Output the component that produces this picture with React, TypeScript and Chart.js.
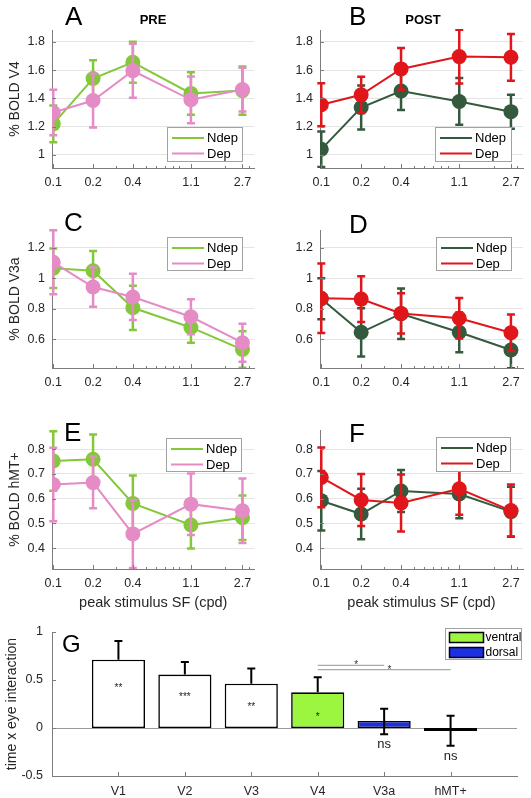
import React, { useEffect, useRef } from 'react';
import { Chart, registerables } from 'chart.js';

Chart.register(...registerables);

const FONT = '"Liberation Sans", Arial, Helvetica, sans-serif';
const TEXT = '#262626';
const AXIS = '#7c7c7c';
const GRID = '#e4e4e4';

const C_NDEP_PRE = '#84c83a';
const C_DEP_PRE = '#e58bc6';
const C_NDEP_POST = '#345a3e';
const C_DEP_POST = '#e0161b';
const C_VENTRAL = '#9cf53f';
const C_DORSAL = '#1c2fe3';
const C_PLAIN = '#ffffff';

// ---------- data ----------
const SF = [0.1, 0.2, 0.4, 1.1, 2.7];
const SF_LABELS = ['0.1', '0.2', '0.4', '1.1', '2.7'];
const SF_MINOR = [0.2, 0.3, 0.4, 0.5, 0.6, 0.7, 0.8, 0.9, 2, 3];

const V4_TICKS = [1, 1.2, 1.4, 1.6, 1.8];
const V3A_TICKS = [0.6, 0.8, 1, 1.2];
const MT_TICKS = [0.4, 0.5, 0.6, 0.7, 0.8];

const V4_PRE_NDEP = [1.22, 1.54, 1.655, 1.435, 1.455];
const V4_PRE_NDEP_ERR = [0.13, 0.13, 0.145, 0.15, 0.17];
const V4_PRE_DEP = [1.3, 1.385, 1.595, 1.39, 1.462];
const V4_PRE_DEP_ERR = [0.16, 0.19, 0.19, 0.165, 0.155];
const V4_POST_NDEP = [1.04, 1.335, 1.452, 1.378, 1.306];
const V4_POST_NDEP_ERR = [0.125, 0.155, 0.135, 0.165, 0.12];
const V4_POST_DEP = [1.355, 1.425, 1.608, 1.695, 1.69];
const V4_POST_DEP_ERR = [0.152, 0.128, 0.148, 0.19, 0.165];

const V3A_PRE_NDEP = [1.066, 1.05, 0.807, 0.678, 0.533];
const V3A_PRE_NDEP_ERR = [0.13, 0.13, 0.145, 0.1, 0.12];
const V3A_PRE_DEP = [1.105, 0.943, 0.878, 0.748, 0.578];
const V3A_PRE_DEP_ERR = [0.21, 0.13, 0.152, 0.115, 0.125];
const V3A_POST_NDEP = [0.866, 0.646, 0.768, 0.646, 0.53];
const V3A_POST_NDEP_ERR = [0.135, 0.158, 0.165, 0.13, 0.12];
const V3A_POST_DEP = [0.869, 0.864, 0.77, 0.738, 0.643];
const V3A_POST_DEP_ERR = [0.228, 0.15, 0.132, 0.133, 0.12];

const MT_PRE_NDEP = [0.752, 0.759, 0.581, 0.494, 0.523];
const MT_PRE_NDEP_ERR = [0.12, 0.1, 0.113, 0.095, 0.09];
const MT_PRE_DEP = [0.657, 0.665, 0.458, 0.578, 0.551];
const MT_PRE_DEP_ERR = [0.148, 0.104, 0.137, 0.124, 0.13];
const MT_POST_NDEP = [0.592, 0.538, 0.631, 0.619, 0.548];
const MT_POST_NDEP_ERR = [0.12, 0.102, 0.085, 0.098, 0.1];
const MT_POST_DEP = [0.686, 0.595, 0.583, 0.64, 0.552];
const MT_POST_DEP_ERR = [0.12, 0.105, 0.115, 0.105, 0.105];

const REGIONS = ['V1', 'V2', 'V3', 'V4', 'V3a', 'hMT+'];
const INTERACTION = [0.712, 0.556, 0.462, 0.372, 0.073, -0.032];
const INTERACTION_ERR_UP = [0.195, 0.131, 0.157, 0.156, 0.128, 0.16];
const INTERACTION_ERR_DOWN = [0, 0, 0, 0, 0.138, 0.152];
const REGION_COLORS = [C_PLAIN, C_PLAIN, C_PLAIN, C_VENTRAL, C_DORSAL, C_DORSAL];
const SIG_LABELS = ['**', '***', '**', '*', 'ns', 'ns'];
const SIG_LABEL_Y = [0.445, 0.351, 0.247, 0.146, -0.173, -0.295];
const G_TICKS = [-0.5, 0, 0.5, 1];
const BRACKET_FROM = [4, 4];
const BRACKET_TO = [5, 6];
const BRACKET_Y = [0.653, 0.608];
const BRACKET_STAR_X = [4.58, 5.08];
const BRACKET_STAR_Y = [0.684, 0.635];
const G_LEGEND_LABELS = ['ventral', 'dorsal'];
const G_LEGEND_COLORS = [C_VENTRAL, C_DORSAL];

// ---------- layout ----------
type Series = { label: string; values: number[]; errors: number[]; color: string };
type Txt = { text: string; x: number; y: number; size: number; bold?: boolean; align?: CanvasTextAlign };
type LinePanel = {
  box: number[]; area: number[]; yMin: number; yMax: number; yTicks: number[];
  yTitle?: string; xTitle?: string; series: Series[]; legend: number[]; texts: Txt[];
};

const X_MIN = 0.0978;
const X_MAX = 3.33;

const PANELS: LinePanel[] = [
  {
    box: [0, 0, 262, 200], area: [52, 30, 255, 168], yMin: 0.908, yMax: 1.883, yTicks: V4_TICKS,
    yTitle: '% BOLD V4',
    series: [
      { label: 'Ndep', values: V4_PRE_NDEP, errors: V4_PRE_NDEP_ERR, color: C_NDEP_PRE },
      { label: 'Dep', values: V4_PRE_DEP, errors: V4_PRE_DEP_ERR, color: C_DEP_PRE },
    ],
    legend: [167, 127, 76, 35],
    texts: [{ text: 'A', x: 65, y: 25, size: 26 }, { text: 'PRE', x: 153, y: 23.5, size: 13, bold: true, align: 'center' }],
  },
  {
    box: [262, 0, 269, 200], area: [320, 30, 523, 168], yMin: 0.908, yMax: 1.883, yTicks: V4_TICKS,
    series: [
      { label: 'Ndep', values: V4_POST_NDEP, errors: V4_POST_NDEP_ERR, color: C_NDEP_POST },
      { label: 'Dep', values: V4_POST_DEP, errors: V4_POST_DEP_ERR, color: C_DEP_POST },
    ],
    legend: [435, 127, 77, 35],
    texts: [{ text: 'B', x: 349, y: 25, size: 26 }, { text: 'POST', x: 423, y: 23.5, size: 13, bold: true, align: 'center' }],
  },
  {
    box: [0, 200, 262, 200], area: [52, 230, 255, 368], yMin: 0.412, yMax: 1.317, yTicks: V3A_TICKS,
    yTitle: '% BOLD V3a',
    series: [
      { label: 'Ndep', values: V3A_PRE_NDEP, errors: V3A_PRE_NDEP_ERR, color: C_NDEP_PRE },
      { label: 'Dep', values: V3A_PRE_DEP, errors: V3A_PRE_DEP_ERR, color: C_DEP_PRE },
    ],
    legend: [167, 237, 76, 34],
    texts: [{ text: 'C', x: 64, y: 231, size: 26 }],
  },
  {
    box: [262, 200, 269, 200], area: [320, 230, 523, 368], yMin: 0.412, yMax: 1.317, yTicks: V3A_TICKS,
    series: [
      { label: 'Ndep', values: V3A_POST_NDEP, errors: V3A_POST_NDEP_ERR, color: C_NDEP_POST },
      { label: 'Dep', values: V3A_POST_DEP, errors: V3A_POST_DEP_ERR, color: C_DEP_POST },
    ],
    legend: [436, 237, 76, 34],
    texts: [{ text: 'D', x: 349, y: 233, size: 26 }],
  },
  {
    box: [0, 400, 262, 215], area: [52, 430, 255, 569], yMin: 0.3165, yMax: 0.877, yTicks: MT_TICKS,
    yTitle: '% BOLD hMT+', xTitle: 'peak stimulus SF (cpd)',
    series: [
      { label: 'Ndep', values: MT_PRE_NDEP, errors: MT_PRE_NDEP_ERR, color: C_NDEP_PRE },
      { label: 'Dep', values: MT_PRE_DEP, errors: MT_PRE_DEP_ERR, color: C_DEP_PRE },
    ],
    legend: [166, 438, 76, 34],
    texts: [{ text: 'E', x: 64, y: 441, size: 26 }],
  },
  {
    box: [262, 400, 269, 215], area: [320, 430, 523, 569], yMin: 0.3165, yMax: 0.877, yTicks: MT_TICKS,
    xTitle: 'peak stimulus SF (cpd)',
    series: [
      { label: 'Ndep', values: MT_POST_NDEP, errors: MT_POST_NDEP_ERR, color: C_NDEP_POST },
      { label: 'Dep', values: MT_POST_DEP, errors: MT_POST_DEP_ERR, color: C_DEP_POST },
    ],
    legend: [436, 437, 75, 35],
    texts: [{ text: 'F', x: 349, y: 442, size: 26 }],
  },
];

const G_BOX = [0, 615, 531, 183];
const G_AREA = [52, 632, 517, 776];
const G_LEGEND = [445, 628, 77, 32];

const fmt = (v: number) => String(+Number(v).toFixed(2));

function drawTexts(ctx: CanvasRenderingContext2D, texts: Txt[], ox: number, oy: number) {
  texts.forEach((t) => {
    ctx.save();
    ctx.font = `${t.bold ? 'bold ' : ''}${t.size}px ${FONT}`;
    ctx.fillStyle = '#000';
    ctx.textAlign = t.align || 'left';
    ctx.textBaseline = 'alphabetic';
    ctx.fillText(t.text, t.x - ox, t.y - oy);
    ctx.restore();
  });
}

function drawAxisTicks(chart: any, xMajor: number[], xMinor: number[], yMajor: number[]) {
  const ctx = chart.ctx;
  const a = chart.chartArea;
  const xs = chart.scales.x;
  const ys = chart.scales.y;
  ctx.save();
  ctx.strokeStyle = AXIS;
  ctx.lineWidth = 1;
  ctx.beginPath();
  xMinor.forEach((v) => {
    const x = Math.round(xs.getPixelForValue(v)) + 0.5;
    ctx.moveTo(x, a.bottom);
    ctx.lineTo(x, a.bottom - 2);
  });
  xMajor.forEach((v) => {
    const x = Math.round(xs.getPixelForValue(v)) + 0.5;
    ctx.moveTo(x, a.bottom);
    ctx.lineTo(x, a.bottom - 4);
  });
  yMajor.forEach((v) => {
    const y = Math.round(ys.getPixelForValue(v)) + 0.5;
    ctx.moveTo(a.left, y);
    ctx.lineTo(a.left + 4, y);
  });
  ctx.stroke();
  ctx.restore();
}

function lineConfig(def: LinePanel): any {
  const [cx, cy, cw, ch] = def.box;
  const [L, T, R, B] = def.area;
  const plugin = {
    id: 'decor',
    beforeDatasetDraw(chart: any, args: any) {
      const ds: any = chart.data.datasets[args.index];
      const meta = args.meta;
      const ys = chart.scales.y;
      const ctx = chart.ctx;
      const a = chart.chartArea;
      ctx.save();
      ctx.beginPath();
      ctx.rect(a.left - 8, a.top - 1, a.right - a.left + 16, a.bottom - a.top + 1);
      ctx.clip();
      ctx.strokeStyle = ds.borderColor;
      ctx.lineWidth = 2.5;
      meta.data.forEach((pt: any, i: number) => {
        const v = ds.data[i].y;
        const e = ds.errors[i];
        const x = pt.x;
        const y1 = ys.getPixelForValue(v + e);
        const y2 = ys.getPixelForValue(v - e);
        ctx.beginPath();
        ctx.moveTo(x, y1);
        ctx.lineTo(x, y2);
        ctx.moveTo(x - 4, y1);
        ctx.lineTo(x + 4, y1);
        ctx.moveTo(x - 4, y2);
        ctx.lineTo(x + 4, y2);
        ctx.stroke();
      });
      ctx.restore();
    },
    afterDraw(chart: any) {
      const ctx = chart.ctx;
      drawAxisTicks(chart, SF, SF_MINOR, def.yTicks);
      const [lx, ly, lw, lh] = def.legend;
      const x = lx - cx;
      const y = ly - cy;
      ctx.save();
      ctx.fillStyle = '#fff';
      ctx.fillRect(x, y, lw, lh);
      ctx.strokeStyle = '#a2a2a2';
      ctx.lineWidth = 1;
      ctx.strokeRect(x + 0.5, y + 0.5, lw - 1, lh - 1);
      ctx.font = `13px ${FONT}`;
      ctx.textBaseline = 'middle';
      ctx.textAlign = 'left';
      def.series.forEach((s, k) => {
        const ry = y + 11 + k * 15.5;
        ctx.strokeStyle = s.color;
        ctx.lineWidth = 2;
        ctx.beginPath();
        ctx.moveTo(x + 5, ry);
        ctx.lineTo(x + 37, ry);
        ctx.stroke();
        ctx.fillStyle = '#000';
        ctx.fillText(s.label, x + 40, ry + 0.5);
      });
      ctx.restore();
      drawTexts(ctx, def.texts, cx, cy);
    },
  };
  return {
    type: 'line',
    data: {
      datasets: def.series.map((s, k) => ({
        label: s.label,
        data: SF.map((x, i) => ({ x, y: s.values[i] })),
        errors: s.errors,
        borderColor: s.color,
        backgroundColor: s.color,
        pointBackgroundColor: s.color,
        pointBorderColor: s.color,
        pointRadius: 7.5,
        pointBorderWidth: 0,
        borderWidth: 2,
        tension: 0,
        order: def.series.length - k,
      })),
    },
    options: {
      animation: false,
      responsive: false,
      devicePixelRatio: 1,
      events: [],
      layout: { padding: { left: 0, top: T - cy, right: cx + cw - R, bottom: 0 } },
      plugins: { legend: { display: false }, tooltip: { enabled: false } },
      scales: {
        x: {
          type: 'logarithmic',
          min: X_MIN,
          max: X_MAX,
          afterBuildTicks: (s: any) => { s.ticks = SF.map((v) => ({ value: v })); },
          afterFit: (s: any) => { s.height = cy + ch - B; },
          ticks: {
            callback: (_v: any, i: number) => SF_LABELS[i],
            autoSkip: false, maxRotation: 0, minRotation: 0, padding: 7,
            color: TEXT, font: { size: 12.5, family: FONT },
          },
          grid: { display: false, drawTicks: false },
          border: { color: AXIS, width: 1 },
          title: def.xTitle
            ? { display: true, text: def.xTitle, color: TEXT, font: { size: 14.5, family: FONT }, padding: { top: 0, bottom: 3 } }
            : { display: false },
        },
        y: {
          type: 'linear',
          min: def.yMin,
          max: def.yMax,
          afterBuildTicks: (s: any) => { s.ticks = def.yTicks.map((v) => ({ value: v })); },
          afterFit: (s: any) => { s.width = L - cx; },
          ticks: {
            callback: (v: any) => fmt(v),
            padding: 7, color: TEXT, font: { size: 12.5, family: FONT },
          },
          grid: { color: GRID, lineWidth: 1, drawTicks: false },
          border: { color: AXIS, width: 1 },
          title: def.yTitle
            ? { display: true, text: def.yTitle, color: TEXT, font: { size: 14, family: FONT }, padding: { top: 6.6, bottom: 0 } }
            : { display: false },
        },
      },
    },
    plugins: [plugin],
  };
}

function barConfig(): any {
  const [cx, cy, cw, ch] = G_BOX;
  const [L, T, R, B] = G_AREA;
  const plugin = {
    id: 'gdecor',
    beforeDatasetsDraw(chart: any) {
      const ctx = chart.ctx;
      const a = chart.chartArea;
      const y0 = Math.round(chart.scales.y.getPixelForValue(0)) + 0.5;
      ctx.save();
      ctx.strokeStyle = '#9a9a9a';
      ctx.lineWidth = 1;
      ctx.beginPath();
      ctx.moveTo(a.left, y0);
      ctx.lineTo(a.right, y0);
      ctx.stroke();
      ctx.restore();
    },
    afterDatasetsDraw(chart: any) {
      const ctx = chart.ctx;
      const xs = chart.scales.x;
      const ys = chart.scales.y;
      const meta = chart.getDatasetMeta(0);
      ctx.save();
      ctx.strokeStyle = '#000';
      ctx.lineWidth = 2;
      meta.data.forEach((bar: any, i: number) => {
        const v = INTERACTION[i];
        const x = bar.x;
        const yTop = ys.getPixelForValue(v + INTERACTION_ERR_UP[i]);
        const hasDown = INTERACTION_ERR_DOWN[i] > 0;
        const yBot = ys.getPixelForValue(v - INTERACTION_ERR_DOWN[i]);
        ctx.beginPath();
        ctx.moveTo(x, yBot);
        ctx.lineTo(x, yTop);
        ctx.moveTo(x - 4, yTop);
        ctx.lineTo(x + 4, yTop);
        if (hasDown) {
          ctx.moveTo(x - 4, yBot);
          ctx.lineTo(x + 4, yBot);
        }
        ctx.stroke();
      });
      ctx.fillStyle = '#222';
      ctx.textAlign = 'center';
      meta.data.forEach((bar: any, i: number) => {
        const lbl = SIG_LABELS[i];
        const y = ys.getPixelForValue(SIG_LABEL_Y[i]);
        if (lbl === 'ns') {
          ctx.font = `13px ${FONT}`;
          ctx.textBaseline = 'middle';
          ctx.fillText(lbl, bar.x, y);
        } else {
          ctx.font = `10px ${FONT}`;
          ctx.textBaseline = 'alphabetic';
          ctx.fillText(lbl, bar.x, y + 5.8);
        }
      });
      ctx.strokeStyle = '#a9a9a9';
      ctx.lineWidth = 1.3;
      BRACKET_FROM.forEach((f, k) => {
        const y = ys.getPixelForValue(BRACKET_Y[k]);
        ctx.beginPath();
        ctx.moveTo(xs.getPixelForValue(f), y);
        ctx.lineTo(xs.getPixelForValue(BRACKET_TO[k]), y);
        ctx.stroke();
        ctx.font = `10px ${FONT}`;
        ctx.textBaseline = 'alphabetic';
        ctx.fillStyle = '#333';
        ctx.fillText('*', xs.getPixelForValue(BRACKET_STAR_X[k]), ys.getPixelForValue(BRACKET_STAR_Y[k]) + 5.8);
      });
      ctx.restore();
    },
    afterDraw(chart: any) {
      const ctx = chart.ctx;
      drawAxisTicks(chart, REGIONS.map((_, i) => i + 1), [], G_TICKS);
      const [lx, ly, lw, lh] = G_LEGEND;
      const x = lx - cx;
      const y = ly - cy;
      ctx.save();
      ctx.fillStyle = '#fff';
      ctx.fillRect(x, y, lw, lh);
      ctx.strokeStyle = '#a2a2a2';
      ctx.lineWidth = 1;
      ctx.strokeRect(x + 0.5, y + 0.5, lw - 1, lh - 1);
      ctx.font = `12px ${FONT}`;
      ctx.textBaseline = 'middle';
      ctx.textAlign = 'left';
      G_LEGEND_LABELS.forEach((lbl, k) => {
        const ry = y + 4.5 + k * 15;
        ctx.fillStyle = G_LEGEND_COLORS[k];
        ctx.fillRect(x + 4.5, ry, 34, 10);
        ctx.strokeStyle = '#000';
        ctx.lineWidth = 1.5;
        ctx.strokeRect(x + 4.5, ry, 34, 10);
        ctx.fillStyle = '#000';
        ctx.fillText(lbl, x + 40.5, ry + 5.5);
      });
      ctx.restore();
      drawTexts(ctx, [{ text: 'G', x: 62, y: 652, size: 24 }], cx, cy);
    },
  };
  return {
    type: 'bar',
    data: {
      datasets: [
        {
          label: 'time x eye interaction',
          data: REGIONS.map((_, i) => ({ x: i + 1, y: INTERACTION[i] })),
          backgroundColor: REGION_COLORS,
          borderColor: '#000',
          borderWidth: 1.6,
          borderSkipped: false,
          barPercentage: 0.8,
          categoryPercentage: 1,
        },
      ],
    },
    options: {
      animation: false,
      responsive: false,
      devicePixelRatio: 1,
      events: [],
      layout: { padding: { left: 0, top: T - cy, right: cx + cw - R, bottom: 0 } },
      plugins: { legend: { display: false }, tooltip: { enabled: false } },
      scales: {
        x: {
          type: 'linear',
          min: 0,
          max: 7,
          offset: false,
          afterBuildTicks: (s: any) => { s.ticks = REGIONS.map((_, i) => ({ value: i + 1 })); },
          afterFit: (s: any) => { s.height = cy + ch - B; },
          ticks: {
            callback: (_v: any, i: number) => REGIONS[i],
            autoSkip: false, maxRotation: 0, minRotation: 0, padding: 8,
            color: TEXT, font: { size: 12.5, family: FONT },
          },
          grid: { display: false, drawTicks: false, offset: false },
          border: { color: AXIS, width: 1 },
        },
        y: {
          type: 'linear',
          min: -0.5,
          max: 1,
          afterBuildTicks: (s: any) => { s.ticks = G_TICKS.map((v) => ({ value: v })); },
          afterFit: (s: any) => { s.width = L - cx; },
          ticks: {
            callback: (v: any) => fmt(v),
            padding: 9, color: TEXT, font: { size: 12.5, family: FONT },
          },
          grid: { display: false, drawTicks: false },
          border: { color: AXIS, width: 1 },
          title: { display: true, text: 'time x eye interaction', color: TEXT, font: { size: 14, family: FONT }, padding: { top: 4, bottom: 0 } },
        },
      },
    },
    plugins: [plugin],
  };
}

function ChartBox({ box, make }: { box: number[]; make: () => any }) {
  const ref = useRef<HTMLCanvasElement>(null);
  useEffect(() => {
    const chart = new Chart(ref.current as HTMLCanvasElement, make());
    return () => chart.destroy();
  }, []);
  return (
    <div style={{ position: 'absolute', left: box[0], top: box[1], width: box[2], height: box[3] }}>
      <canvas ref={ref} width={box[2]} height={box[3]} style={{ display: 'block', width: box[2], height: box[3] }} />
    </div>
  );
}

export default function App() {
  return (
    <div style={{ position: 'absolute', left: 0, top: 0, width: 531, height: 798, background: '#fff', overflow: 'hidden' }}>
      {PANELS.map((p, i) => (
        <ChartBox key={i} box={p.box} make={() => lineConfig(p)} />
      ))}
      <ChartBox box={G_BOX} make={barConfig} />
    </div>
  );
}
